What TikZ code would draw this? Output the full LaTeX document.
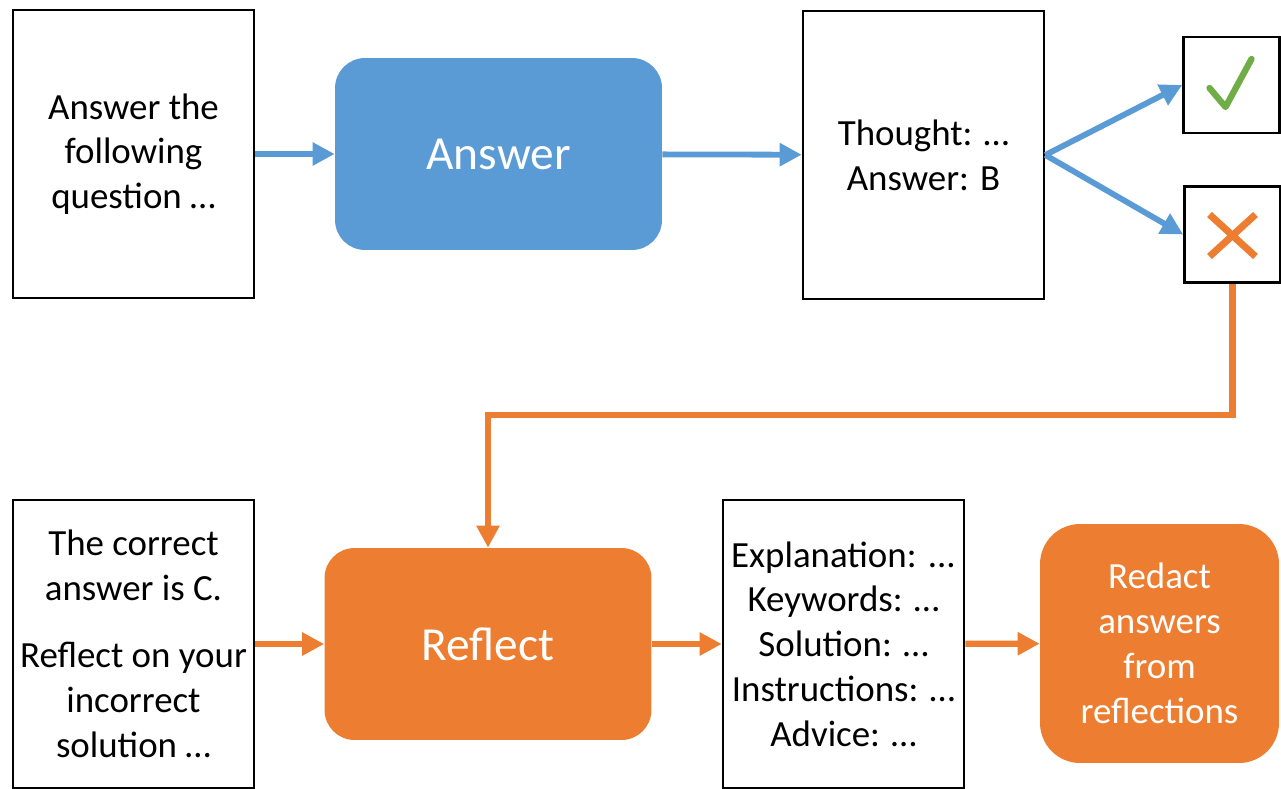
\documentclass[tikz,border=0pt]{standalone}
\usepackage{fontspec}
\setmainfont{Carlito}
\usetikzlibrary{arrows.meta}
\definecolor{ansblue}{HTML}{5B9BD5}
\definecolor{refl}{HTML}{ED7D31}
\definecolor{okgreen}{HTML}{70AD47}

\begin{document}
\begin{tikzpicture}[x=0.02cm,y=-0.02cm,>={Triangle[length=0.44cm,width=0.44cm]},
	txtbox/.style={rectangle,draw,line width=1.5pt,minimum width=4.82cm,minimum height=5.76cm,align=center,font=\fontsize{21}{25.5}\selectfont},
	stepbox/.style={rectangle,rounded corners=0.6cm,minimum width=6.54cm,minimum height=3.84cm,text=white,font=\fontsize{27}{32}\selectfont},
	markbox/.style={rectangle,draw,line width=1.5pt,minimum width=1.92cm,minimum height=1.92cm},
	blueflow/.style={->,ansblue,line width=3.3pt},
	orangeflow/.style={->,refl,line width=3.5pt}]
	\useasboundingbox (0,0) rectangle (1281,788);

	\node[txtbox] (qst) at (133.5,154) {Answer the\\following\\question …};
	\node[stepbox,fill=ansblue] (ans) at (498.5,154) {Answer};
	\node[txtbox] (thg) at (923.5,155) {Thought: …\\Answer: B};
	\node[markbox] (yes) at (1231.5,85) {};
	\node[markbox] (no) at (1232.5,234.5) {};

	\node[txtbox] (hint) at (133.5,644) {The correct\\answer is C.\\[0.45cm]Reflect on your\\incorrect\\solution …};
	\node[stepbox,fill=refl] (rfl) at (488,644) {Reflect};
	\node[txtbox] (out) at (843.5,644) {Explanation: ...\\Keywords: …\\Solution: …\\Instructions: …\\Advice: …};
	\node[stepbox,fill=refl,minimum width=4.78cm,minimum height=4.78cm,rounded corners=0.8cm,align=center,font=\fontsize{21}{25.5}\selectfont] (rdc) at (1159.5,643.5) {Redact\\answers\\from\\reflections};

	\draw[okgreen,line width=3.6pt,line cap=round,line join=round] ([shift={(-22,3)}]yes.center) -- ([shift={(-6,22)}]yes.center) -- ([shift={(20,-26)}]yes.center);
	\draw[refl,line width=4pt] ([shift={(-23,-20)}]no.center) -- ([shift={(23,22)}]no.center) ([shift={(23,-20)}]no.center) -- ([shift={(-23,22)}]no.center);

	\draw[blueflow] (qst) -- (ans);
	\draw[blueflow] (ans) -- (thg);
	\draw[blueflow] (thg.east) -- (yes.west);
	\draw[blueflow] (thg.east) -- (no.west);

	\coordinate (turn) at (860,415);
	\draw[orangeflow] (no.south) |- (turn) -| (rfl.north);
	\draw[orangeflow] (hint) -- (rfl);
	\draw[orangeflow] (rfl) -- (out);
	\draw[orangeflow] (out) -- (rdc);
\end{tikzpicture}
\end{document}
